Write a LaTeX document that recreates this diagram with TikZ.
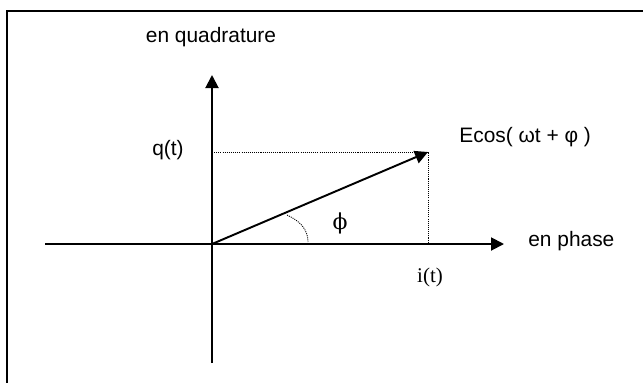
\documentclass[tikz,border=0pt]{standalone}
\usepackage{fontspec}
\setmainfont{Liberation Sans}
\newfontfamily\timesfont{Liberation Serif}
\newfontfamily\greekfont{DejaVu Serif}
\usetikzlibrary{arrows.meta,positioning}
\begin{document}
\begin{tikzpicture}[x=0.02cm,y=-0.02cm,
    axis/.style={line width=1.1pt,-{Triangle[length=7.4pt,width=7.4pt]}},
    guide/.style={line width=0.5pt,dash pattern=on 0.6pt off 0.6pt},
    lbl/.style={inner sep=0pt,font=\fontsize{11.9}{14}\selectfont}]
    \useasboundingbox (0,0) rectangle (643,383);

    % Frame (top and left edges)
    \draw[line width=1.3pt] (643,11) -- (7,11) -- (7,383);

    % Key points
    \coordinate (O) at (212,244);    % origin
    \coordinate (xmin) at (45,244);
    \coordinate (xmax) at (504,244);
    \coordinate (ymin) at (212,363);
    \coordinate (ymax) at (212,75);
    \coordinate (E) at (428,152);    % tip of the phasor
    \coordinate (Eq) at (212,152);   % projection on the q axis
    \coordinate (Ei) at (428,244);   % projection on the i axis

    % Draw axes
    \draw[axis] (xmin) -- (xmax);
    \draw[axis] (ymin) -- (ymax);

    % Phasor and its projections
    \draw[axis] (O) -- (E);
    \draw[guide] (Eq) -- (E) -- (Ei);

    % Angle mark
    \draw[guide] (287,215) to[out=-25,in=90] (308,242);

    % Labels
    \node[lbl] (quad) at (211,37) {en quadrature};
    \node[lbl,anchor=west] (phase) at (528,241) {en phase};
    \node[lbl] (qt) at (168,150) {q(t)};
    \node[lbl,anchor=west] (ecos) at (459,137) {Ecos( ωt + φ )};
    \node[lbl,font=\timesfont\fontsize{11.9}{14}\selectfont] (it) at (430,277) {i(t)};
    \node[lbl,font=\greekfont\fontsize{12.5}{14}\selectfont] (phi) at (340,223) {ϕ};
\end{tikzpicture}
\end{document}
